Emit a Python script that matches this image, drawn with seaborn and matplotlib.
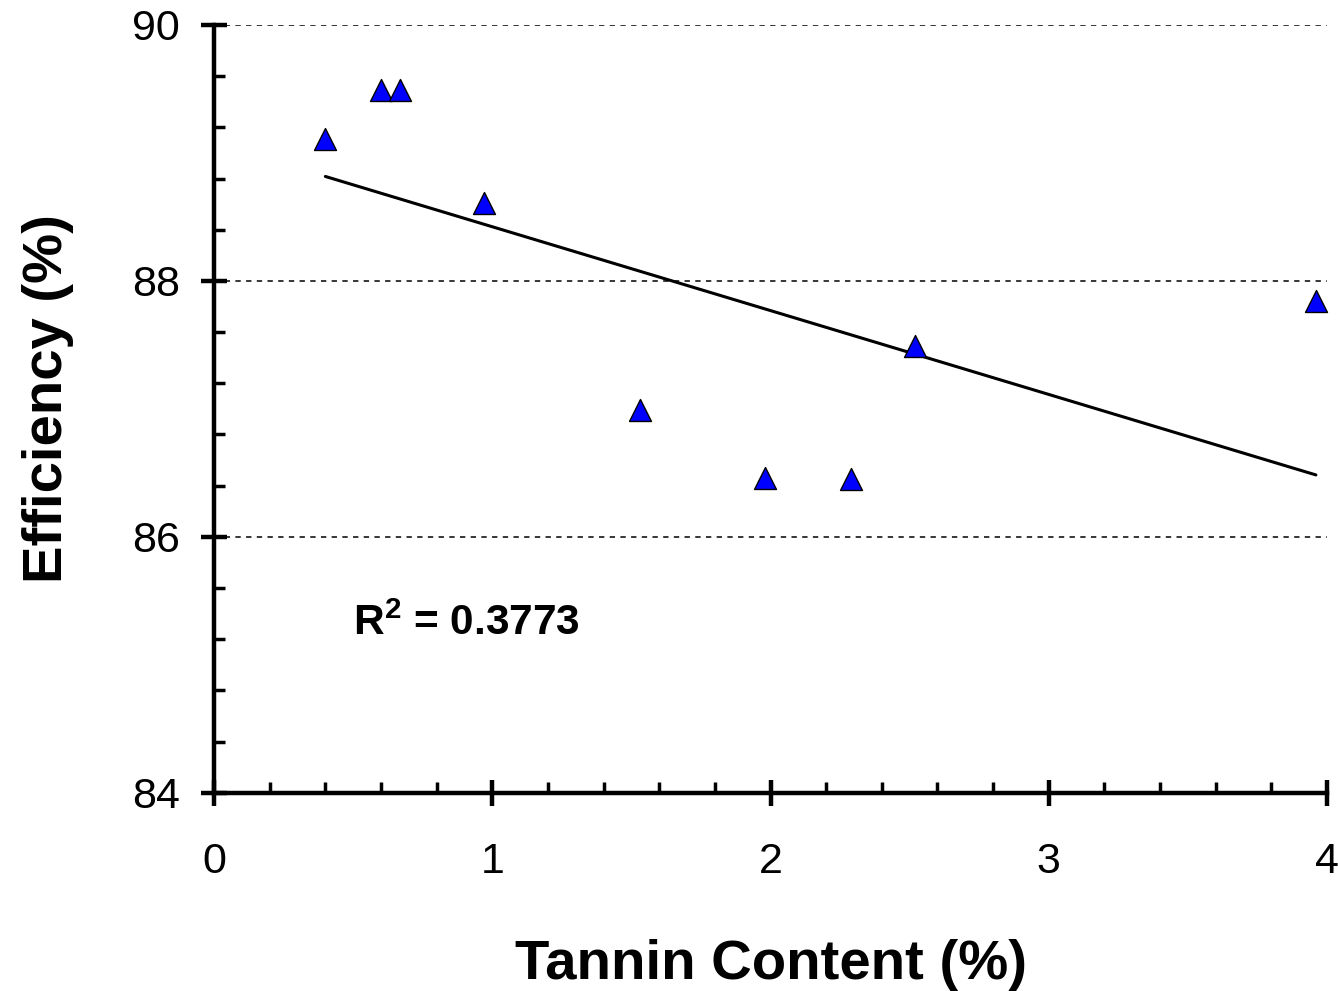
import numpy as np
import pandas as pd
import matplotlib
matplotlib.use("Agg")
import matplotlib.pyplot as plt
from matplotlib.ticker import MultipleLocator
import seaborn as sns

# Tannin content (%) and corresponding efficiency (%)
tannin = [0.40, 0.60, 0.67, 0.97, 1.53, 1.98, 2.29, 2.52, 3.96]
efficiency = [89.11, 89.49, 89.49, 88.61, 86.99, 86.46, 86.45, 87.49, 87.84]
r2_label = r"R$^{\mathbf{2}}$ = 0.3773"
x_ticks = [0, 1, 2, 3, 4]
y_ticks = [84, 86, 88, 90]

df = pd.DataFrame({"tannin": tannin, "efficiency": efficiency})

sns.set_style("white")
plt.rcParams["font.family"] = ["Liberation Sans", "DejaVu Sans"]
plt.rcParams["mathtext.fontset"] = "custom"
plt.rcParams["mathtext.bf"] = "Liberation Sans:bold"
plt.rcParams["mathtext.rm"] = "Liberation Sans"
plt.rcParams["text.color"] = "black"
plt.rcParams["axes.labelcolor"] = "black"

fig = plt.figure(figsize=(13.38, 9.91), dpi=100)
ax = fig.add_axes([0.16, 0.2, 0.8318, 0.7748])

# dashed horizontal guides at major y values
for yv in y_ticks[1:]:
    ax.axhline(yv, color="black", lw=1.1, ls=(0, (3.5, 3.5)), zorder=1)

# least-squares trend line over the data range
sns.regplot(data=df, x="tannin", y="efficiency", scatter=False, ci=None,
            truncate=True, color="black", line_kws={"lw": 2.2, "zorder": 2}, ax=ax)

sns.scatterplot(data=df, x="tannin", y="efficiency", marker="^", s=250,
                color="#0000FF", edgecolor="black", linewidth=1.0,
                zorder=3, clip_on=False, ax=ax)

ax.set_xlim(0, 4)
ax.set_ylim(84, 90)
ax.set_xticks(x_ticks)
ax.set_yticks(y_ticks)
ax.xaxis.set_minor_locator(MultipleLocator(0.2))
ax.yaxis.set_minor_locator(MultipleLocator(0.4))

for side in ["top", "right"]:
    ax.spines[side].set_visible(False)
for side in ["left", "bottom"]:
    ax.spines[side].set_linewidth(3.2)
    ax.spines[side].set_color("black")

ax.tick_params(axis="both", which="both", bottom=True, left=True)
ax.tick_params(axis="both", which="major", direction="inout", length=19,
               width=3.2, color="black", labelsize=31, labelcolor="black")
ax.tick_params(axis="both", which="minor", direction="in", length=8,
               width=2.5, color="black")
ax.tick_params(axis="x", which="major", pad=26)
ax.tick_params(axis="y", which="major", pad=15)

ax.set_xlabel("Tannin Content (%)", fontsize=40.5, fontweight="bold", labelpad=41,
              color="black")
ax.set_ylabel("Efficiency (%)", fontsize=40.5, fontweight="bold", labelpad=42,
              color="black")
ax.yaxis.label.set_y(0.513)

ax.text(0.5, 85.32, r2_label, fontsize=30.5, fontweight="bold", ha="left",
        va="center", color="black")

ax.grid(False)
fig.savefig("out.png", dpi=100)
